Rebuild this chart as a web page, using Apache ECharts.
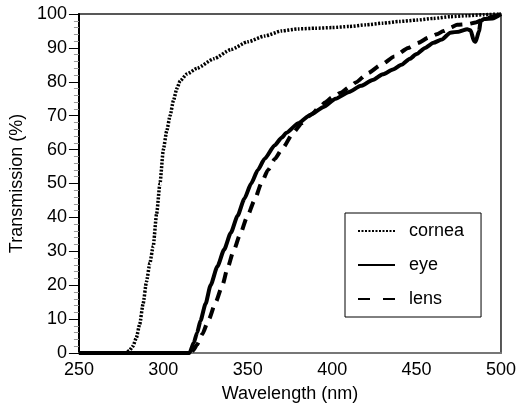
<!DOCTYPE html>
<html>
<head>
<meta charset="utf-8">
<script src="https://cdn.jsdelivr.net/npm/echarts@6/dist/echarts.min.js"></script>
<style>
    html, body { margin: 0; padding: 0; background: #fff; }
    #chart { width: 519px; height: 408px; }
</style>
</head>
<body>
<div id="chart"></div>
<script>
// wavelength (nm) / transmission (%) pairs
const corneaWl = [250, 270, 278, 280, 282, 284, 286, 288, 290, 292, 294, 296, 298, 300, 302, 304, 306, 308, 310, 314, 320, 330, 340, 350, 360, 370, 380, 390, 400, 410, 420, 430, 440, 450, 460, 470, 480, 490, 500];
const corneaT = [0, 0, 0, 0.8, 2, 4.5, 8.5, 14.5, 21, 26.5, 31.5, 41, 50, 60, 65.5, 70, 74.5, 78, 80.3, 82.3, 84, 86.8, 89.5, 91.8, 93.5, 95, 95.6, 95.8, 96, 96.3, 96.8, 97.3, 97.8, 98.2, 98.7, 99.2, 99.5, 99.8, 100];

const eyeWl = [250, 300, 315.5, 318, 320, 322, 325, 328, 332, 336, 340, 344, 348, 352, 356, 360, 366, 370, 373, 380, 387, 395, 402, 410, 417, 424, 430, 436, 441, 446, 450, 455, 460, 465, 470, 475, 480, 482, 484, 485, 487, 488, 490, 495, 500];
const eyeT = [0, 0, 0, 3, 6, 9.5, 14.5, 20, 25.5, 30.5, 35.5, 40.5, 45.5, 50, 54, 57.3, 61.3, 63.5, 65, 67.8, 70.2, 72.6, 75, 77, 78.8, 80.5, 82.2, 83.6, 85, 86.8, 88.2, 90, 91.5, 92.5, 94.5, 94.8, 95.5, 95.2, 92, 91.8, 95, 98, 98.5, 98.7, 100];

const lensWl = [250, 316.5, 318, 320, 323, 327, 331, 335, 338, 341.5, 345.5, 349.5, 354, 358, 362, 366, 370.5, 377, 382, 388, 392, 396, 400, 405, 410, 414, 421, 429, 437, 445, 451, 457, 462, 466, 470, 474, 480, 485, 490, 495, 500];
const lensT = [0, 0, 1, 2.5, 5.5, 10, 15, 20, 25, 30, 35, 40, 45, 50, 54, 57.2, 60.3, 65, 67.8, 70.5, 72.3, 74, 75.4, 76.8, 78.4, 79.8, 82.5, 85, 87.5, 90, 91.5, 93, 94, 95, 96, 96.8, 97, 97.5, 98.5, 99.2, 100];

const seriesNames = ['cornea', 'eye', 'lens'];

const pairs = (xs, ys) => xs.map((x, i) => [x, ys[i]]);

const chart = echarts.init(document.getElementById('chart'));

const font = 'Liberation Sans, Arial, Helvetica, sans-serif';

const option = {
    animation: false,
    backgroundColor: '#fff',
    grid: {
        left: 70,
        right: 17,
        top: 14,
        bottom: 52,
        show: true,
        borderColor: '#222',
        borderWidth: 1.5
    },
    legend: {
        orient: 'vertical',
        left: 345,
        top: 213,
        padding: [8, 17, 8, 12],
        itemWidth: 37,
        itemHeight: 14,
        itemGap: 14,
        borderColor: '#000',
        borderWidth: 1,
        backgroundColor: '#fff',
        // hide the round marker ECharts puts on line-series legend icons
        itemStyle: { color: 'transparent', borderColor: 'transparent', borderWidth: 0 },
        data: [
            { name: seriesNames[0] },
            { name: seriesNames[1] },
            { name: seriesNames[2], lineStyle: { type: [12, 13] } }
        ],
        textStyle: {
            fontFamily: font,
            fontSize: 18,
            color: '#000',
            lineHeight: 20,
            padding: [0, 0, 0, 9]
        }
    },
    xAxis: {
        type: 'value',
        min: 250,
        max: 500,
        interval: 50,
        name: 'Wavelength (nm)',
        nameLocation: 'middle',
        nameGap: 32,
        nameTextStyle: { fontFamily: font, fontSize: 18, color: '#000' },
        axisLine: { show: true, lineStyle: { color: '#777', width: 2 } },
        axisTick: { show: false },
        splitLine: { show: false },
        axisLabel: { fontFamily: font, fontSize: 18, color: '#000', margin: 8 }
    },
    yAxis: {
        type: 'value',
        min: 0,
        max: 100,
        interval: 10,
        name: 'Transmission (%)',
        nameLocation: 'middle',
        nameGap: 47,
        nameTextStyle: { fontFamily: font, fontSize: 18, color: '#000' },
        axisLine: { show: true, lineStyle: { color: '#000', width: 2 } },
        axisTick: { show: true, length: 10, lineStyle: { color: '#000', width: 1 } },
        minorTick: { show: true, splitNumber: 5, length: 5, lineStyle: { color: '#999', width: 1 } },
        splitLine: { show: false },
        axisLabel: { fontFamily: font, fontSize: 18, color: '#000', margin: 12 }
    },
    series: [
        {
            name: 'cornea',
            type: 'line',
            data: pairs(corneaWl, corneaT),
            symbol: 'none',
            clip: false,
            smooth: 0.2,
            smoothMonotone: 'x',
            lineStyle: { color: '#000', width: 3.5, type: [2, 1.5] },
            itemStyle: { color: '#000' }
        },
        {
            name: 'eye',
            type: 'line',
            data: pairs(eyeWl, eyeT),
            symbol: 'none',
            clip: false,
            smooth: 0.2,
            smoothMonotone: 'x',
            lineStyle: { color: '#000', width: 4, type: 'solid' },
            itemStyle: { color: '#000' }
        },
        {
            name: 'lens',
            type: 'line',
            data: pairs(lensWl, lensT),
            symbol: 'none',
            clip: false,
            smooth: 0.2,
            smoothMonotone: 'x',
            lineStyle: { color: '#000', width: 4, type: [11, 8] },
            itemStyle: { color: '#000' }
        }
    ]
};

chart.setOption(option);
</script>
</body>
</html>
